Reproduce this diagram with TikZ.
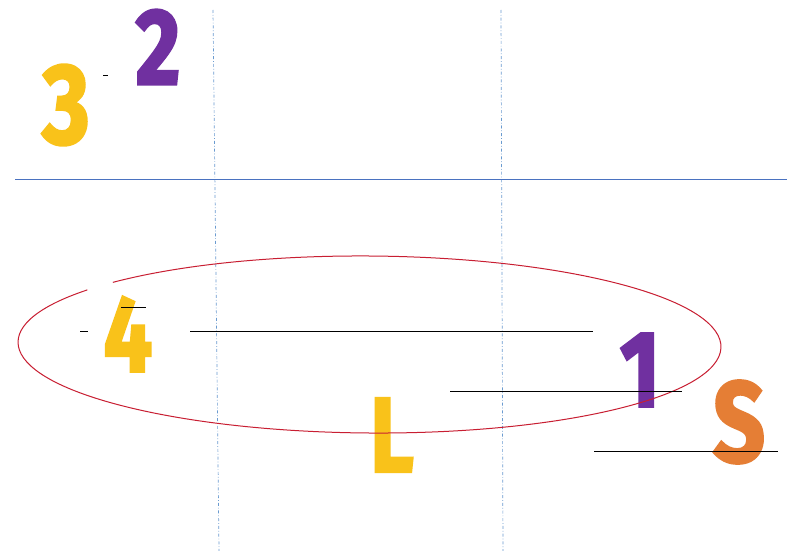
\documentclass[tikz,border=0pt]{standalone}
\usepackage{fontspec}
\newfontfamily\digitfont[BoldFeatures={FakeBold=2.5}]{Fira Sans}
\definecolor{gold}{HTML}{F9C21A}
\definecolor{violet}{HTML}{7030A0}
\definecolor{orangeS}{HTML}{E57E35}
\definecolor{ellred}{RGB}{200,30,50}
\definecolor{axisblue}{HTML}{4A72C0}
\definecolor{guideblue}{HTML}{6A9BD0}
\definecolor{thin}{HTML}{6A6A6A}
\tikzset{
  glyph/.style={inner sep=0pt, anchor=center, xscale=0.8, font=\digitfont\bfseries\fontsize{#1}{#1}\selectfont},
  guide/.style={guideblue, line width=0.7pt, dash dot},
  rule/.style={thin, line width=0.7pt},
}
\begin{document}
\begin{tikzpicture}[x=1pt,y=-1pt]
\useasboundingbox (0,0) rectangle (787,551);
\fill[white] (0,0) rectangle (787,551);
% guides
\draw[guide] (213,10) -- (219,551);
\draw[guide] (501,10) -- (503,551);
% horizontal axis
\draw[axisblue, line width=1pt] (15,179) -- (787,179);
% digits
\node[glyph=114, text=gold] (three) at (66,105) {3};
\node[glyph=108, text=violet] (two) at (158,47) {2};
\node[glyph=108, text=gold] (four) at (128,334) {4};
\node[glyph=108, text=violet] (one) at (640,370) {1};
\node[glyph=114, text=orangeS] (ess) at (739,422) {S};
\node[glyph=106, text=gold] (ell) at (392,435) {L};
% ellipse with a small gap at upper left
\begin{scope}[rotate around={-0.4:(369.5,344.5)}]
\draw[ellred, line width=1pt] (369.5,344.5) ++(223:351.5 and 88.5)
  arc[start angle=223, end angle=576.5, x radius=351.5, y radius=88.5];
\end{scope}
% thin grey rules
\draw[rule] (190,331) -- (593,331);
\draw[rule] (450,391) -- (682,391);
\draw[rule] (594,451) -- (778,451);
\draw[rule] (80,331) -- (88,331);
\draw[rule] (121,307) -- (146,307);
\draw[rule] (103,75) -- (108,75);
\end{tikzpicture}
\end{document}
